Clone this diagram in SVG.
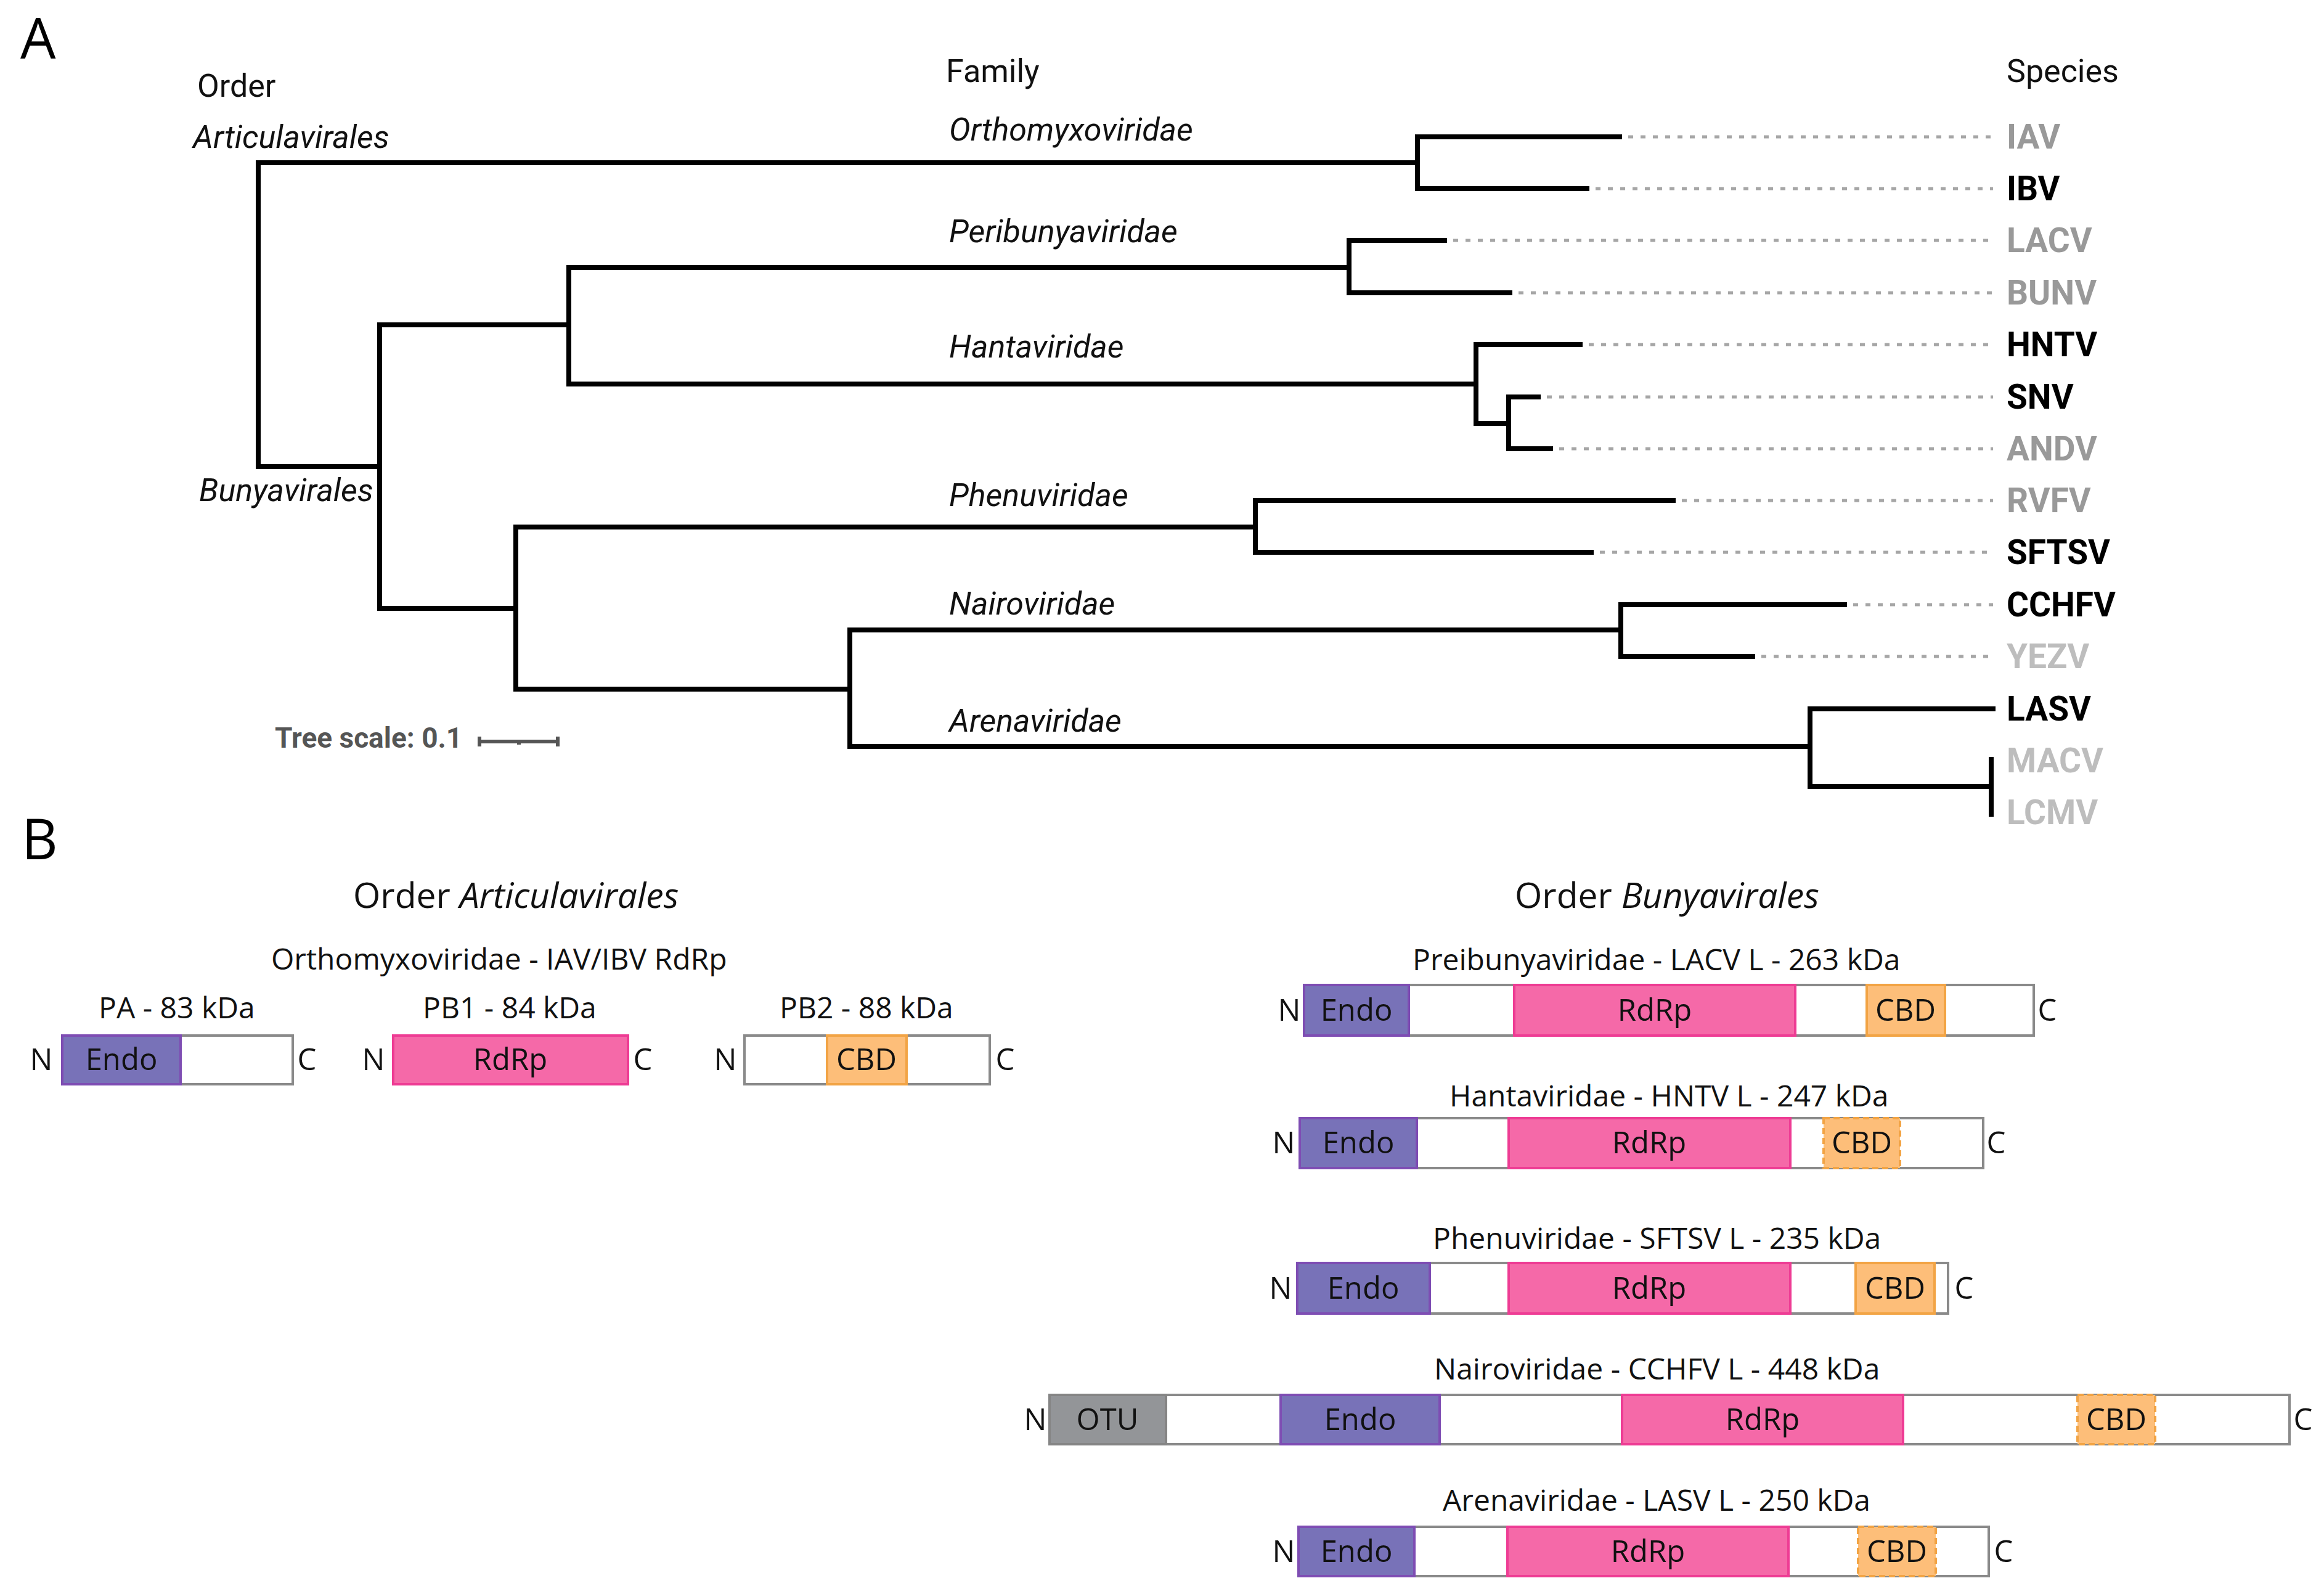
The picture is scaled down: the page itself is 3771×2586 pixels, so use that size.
<svg xmlns="http://www.w3.org/2000/svg" width="3771" height="2586" viewBox="0 0 3771 2586">
<style>
.br{stroke:#000;stroke-width:8;fill:none;stroke-linecap:square;stroke-linejoin:miter}
.dot{stroke:#a6a6a6;stroke-width:5;stroke-dasharray:8 12;fill:none}
.sp{font-family:Roboto,"Liberation Sans",sans-serif;font-weight:bold;font-size:55px;fill:#000}
.g1{fill:#999}
.g2{fill:#bdbdbd}
.fam{font-family:Roboto,"Liberation Sans",sans-serif;font-style:italic;font-size:52px;fill:#111}
.hdr{font-family:Roboto,"Liberation Sans",sans-serif;font-size:52px;fill:#111}
.pl{font-family:"Open Sans","Liberation Sans",sans-serif;font-size:91px;fill:#000}
.os{font-family:"Open Sans","Liberation Sans",sans-serif;font-size:48px;fill:#111}
.ttl{font-family:"Open Sans","Liberation Sans",sans-serif;font-size:57px;fill:#111}
.lb{font-family:"Open Sans","Liberation Sans",sans-serif;font-size:49px;fill:#111;text-anchor:middle}
.box{fill:#fff;stroke:#8a8a8a;stroke-width:4}
.endo{fill:#7872B8;stroke:#7E4DB3;stroke-width:4}
.rdrp{fill:#F569A8;stroke:#EE3C94;stroke-width:4}
.cbd{fill:#FDBE79;stroke:#F2A445;stroke-width:4}
.cbdd{fill:#FDBE79;stroke:#F2A445;stroke-width:4;stroke-dasharray:10 6}
.otu{fill:#939598;stroke:#858585;stroke-width:4}
</style>
<rect width="3771" height="2586" fill="#fff"/>
<text class="pl" x="33" y="95">A</text>
<text class="pl" x="35" y="1394">B</text>

<g id="headers">
<text class="hdr" x="320" y="157">Order</text>
<text class="hdr" x="1535" y="133">Family</text>
<text class="hdr" x="3256" y="133">Species</text>
</g>
<g id="order-labels">
<text class="fam" x="313" y="240">Articulavirales</text>
<text class="fam" x="323" y="813">Bunyavirales</text>
</g>
<g id="family-labels">
<text class="fam" x="1540" y="228">Orthomyxoviridae</text>
<text class="fam" x="1540" y="393">Peribunyaviridae</text>
<text class="fam" x="1540" y="580">Hantaviridae</text>
<text class="fam" x="1540" y="821">Phenuviridae</text>
<text class="fam" x="1540" y="997">Nairoviridae</text>
<text class="fam" x="1540" y="1187">Arenaviridae</text>
</g>

<g id="connectors">
<path class="br" d="M2300 264 H419 V757 H616"/>
<path class="br" d="M2628 222 H2300 V306 H2575"/>
<path class="br" d="M923 527 H616 V987 H837"/>
<path class="br" d="M2189 434 H923 V623 H2395"/>
<path class="br" d="M2344 390 H2189 V475 H2450"/>
<path class="br" d="M2564 559 H2395 V687 H2448"/>
<path class="br" d="M2496 644 H2448 V728 H2516"/>
<path class="br" d="M2037 855 H837 V1118 H1379"/>
<path class="br" d="M2715 812 H2037 V896 H2582"/>
<path class="br" d="M2630 1022 H1379 V1211 H2937"/>
<path class="br" d="M2993 981 H2630 V1065 H2844"/>
<path class="br" d="M3234 1150 H2937 V1276 H3231"/>
<path class="br" d="M3231 1232 V1321"/>
<g id="leader-lines">
<path class="dot" d="M2642 222 H3234"/>
<path class="dot" d="M2589 306 H3234"/>
<path class="dot" d="M2358 390 H3234"/>
<path class="dot" d="M2464 475 H3234"/>
<path class="dot" d="M2578 559 H3234"/>
<path class="dot" d="M2510 644 H3234"/>
<path class="dot" d="M2530 728 H3234"/>
<path class="dot" d="M2729 812 H3234"/>
<path class="dot" d="M2596 896 H3234"/>
<path class="dot" d="M3007 981 H3234"/>
<path class="dot" d="M2858 1065 H3234"/>
</g>
</g>

<g id="species">
<text class="sp g1" x="3256" y="241">IAV</text>
<text class="sp" x="3256" y="325">IBV</text>
<text class="sp g1" x="3256" y="409">LACV</text>
<text class="sp g1" x="3256" y="494">BUNV</text>
<text class="sp" x="3256" y="578">HNTV</text>
<text class="sp" x="3256" y="663">SNV</text>
<text class="sp g1" x="3256" y="747">ANDV</text>
<text class="sp g1" x="3256" y="831">RVFV</text>
<text class="sp" x="3256" y="915">SFTSV</text>
<text class="sp" x="3256" y="1000">CCHFV</text>
<text class="sp g2" x="3256" y="1084">YEZV</text>
<text class="sp" x="3256" y="1169">LASV</text>
<text class="sp g2" x="3256" y="1253">MACV</text>
<text class="sp g2" x="3256" y="1337">LCMV</text>
</g>

<g id="tree-scale">
<text x="446" y="1213" font-family="Roboto, 'Liberation Sans', sans-serif" font-weight="bold" font-size="46" fill="#555">Tree scale: 0.1</text>
<path d="M778 1203 H905 M778 1195 V1211 M905 1195 V1211 M842 1203 V1208" stroke="#555" stroke-width="6" fill="none"/>
</g>

<g id="titles-B">
<text class="ttl" x="573" y="1473">Order <tspan font-style="italic">Articulavirales</tspan></text>
<text class="ttl" x="2458" y="1473">Order <tspan font-style="italic">Bunyavirales</tspan></text>
<text class="os" x="440" y="1573">Orthomyxoviridae - IAV/IBV RdRp</text>
</g>

<g id="PA">
<text class="os" x="160" y="1652">PA - 83 kDa</text>
<rect class="box" x="101" y="1680" width="374" height="79"/>
<rect class="endo" x="101" y="1680" width="192" height="79"/>
<text class="lb" x="197" y="1736">Endo</text>
<text class="lb" x="67" y="1736">N</text>
<text class="lb" x="498" y="1736">C</text>
</g>
<g id="PB1">
<text class="os" x="686" y="1652">PB1 - 84 kDa</text>
<rect class="rdrp" x="638" y="1680" width="381" height="79"/>
<text class="lb" x="828" y="1736">RdRp</text>
<text class="lb" x="606" y="1736">N</text>
<text class="lb" x="1043" y="1736">C</text>
</g>
<g id="PB2">
<text class="os" x="1265" y="1652">PB2 - 88 kDa</text>
<rect class="box" x="1208" y="1680" width="398" height="79"/>
<rect class="cbd" x="1342" y="1680" width="129" height="79"/>
<text class="lb" x="1406" y="1736">CBD</text>
<text class="lb" x="1177" y="1736">N</text>
<text class="lb" x="1631" y="1736">C</text>
</g>

<g id="LACV-L">
<text class="os" x="2292" y="1574">Preibunyaviridae - LACV L - 263 kDa</text>
<rect class="box" x="2116" y="1598" width="1184" height="82"/>
<rect class="endo" x="2116" y="1598" width="170" height="82"/>
<rect class="rdrp" x="2457" y="1598" width="456" height="82"/>
<rect class="cbd" x="3029" y="1598" width="127" height="82"/>
<text class="lb" x="2201" y="1656">Endo</text>
<text class="lb" x="2685" y="1656">RdRp</text>
<text class="lb" x="3092" y="1656">CBD</text>
<text class="lb" x="2092" y="1656">N</text>
<text class="lb" x="3322" y="1656">C</text>
</g>
<g id="HNTV-L">
<text class="os" x="2352" y="1795">Hantaviridae - HNTV L - 247 kDa</text>
<rect class="box" x="2109" y="1814" width="1109" height="81"/>
<rect class="endo" x="2109" y="1814" width="190" height="81"/>
<rect class="rdrp" x="2448" y="1814" width="457" height="81"/>
<rect class="cbdd" x="2959" y="1814" width="124" height="81"/>
<text class="lb" x="2204" y="1871">Endo</text>
<text class="lb" x="2676" y="1871">RdRp</text>
<text class="lb" x="3021" y="1871">CBD</text>
<text class="lb" x="2083" y="1871">N</text>
<text class="lb" x="3239" y="1871">C</text>
</g>
<g id="SFTSV-L">
<text class="os" x="2325" y="2026">Phenuviridae - SFTSV L - 235 kDa</text>
<rect class="box" x="2105" y="2049" width="1056" height="82"/>
<rect class="endo" x="2105" y="2049" width="215" height="82"/>
<rect class="rdrp" x="2448" y="2049" width="457" height="82"/>
<rect class="cbd" x="3011" y="2049" width="128" height="82"/>
<text class="lb" x="2212" y="2107">Endo</text>
<text class="lb" x="2676" y="2107">RdRp</text>
<text class="lb" x="3075" y="2107">CBD</text>
<text class="lb" x="2078" y="2107">N</text>
<text class="lb" x="3187" y="2107">C</text>
</g>
<g id="CCHFV-L">
<text class="os" x="2327" y="2238">Nairoviridae - CCHFV L - 448 kDa</text>
<rect class="box" x="1703" y="2263" width="2012" height="80"/>
<rect class="otu" x="1703" y="2263" width="189" height="80"/>
<rect class="endo" x="2078" y="2263" width="258" height="80"/>
<rect class="rdrp" x="2632" y="2263" width="456" height="80"/>
<rect class="cbdd" x="3371" y="2263" width="126" height="80"/>
<text class="lb" x="1797" y="2320">OTU</text>
<text class="lb" x="2207" y="2320">Endo</text>
<text class="lb" x="2860" y="2320">RdRp</text>
<text class="lb" x="3434" y="2320">CBD</text>
<text class="lb" x="1680" y="2320">N</text>
<text class="lb" x="3737" y="2320">C</text>
</g>
<g id="LASV-L">
<text class="os" x="2341" y="2451">Arenaviridae - LASV L - 250 kDa</text>
<rect class="box" x="2107" y="2477" width="1120" height="80"/>
<rect class="endo" x="2107" y="2477" width="188" height="80"/>
<rect class="rdrp" x="2446" y="2477" width="456" height="80"/>
<rect class="cbdd" x="3015" y="2477" width="126" height="80"/>
<text class="lb" x="2201" y="2534">Endo</text>
<text class="lb" x="2674" y="2534">RdRp</text>
<text class="lb" x="3078" y="2534">CBD</text>
<text class="lb" x="2083" y="2534">N</text>
<text class="lb" x="3251" y="2534">C</text>
</g>
</svg>
